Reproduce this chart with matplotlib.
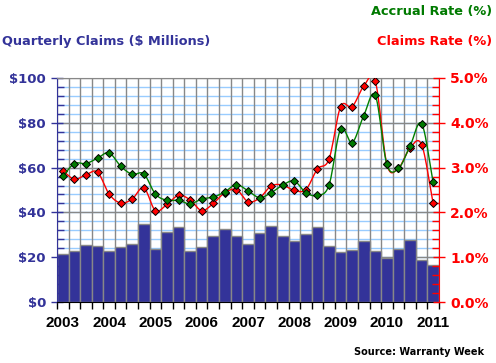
import matplotlib.pyplot as plt
import numpy as np

# quarterly data, 2003 Q1 .. 2011 Q1
claims = [21.3, 22.7, 25.3, 24.9, 22.7, 24.4, 25.8, 34.7, 23.6, 31.1, 33.3,
          22.7, 24.4, 29.3, 32.4, 29.3, 25.8, 30.7, 33.8, 29.3, 27.3, 30.2,
          33.3, 24.9, 22.2, 23.1, 27.1, 22.7, 19.6, 23.6, 27.6, 18.7, 16.4]
accrual_rate = [2.81, 3.09, 3.09, 3.21, 3.33, 3.03, 2.85, 2.86, 2.41, 2.27, 2.27,
                2.19, 2.30, 2.34, 2.46, 2.62, 2.48, 2.33, 2.44, 2.61, 2.70, 2.44,
                2.38, 2.61, 3.86, 3.56, 4.16, 4.61, 3.07, 2.98, 3.48, 3.98, 2.67]
claims_rate = [2.93, 2.74, 2.84, 2.90, 2.41, 2.21, 2.30, 2.55, 2.04, 2.18, 2.38,
               2.28, 2.04, 2.20, 2.44, 2.51, 2.24, 2.32, 2.59, 2.61, 2.49, 2.51,
               2.97, 3.19, 4.36, 4.36, 4.82, 4.93, 3.07, 2.99, 3.44, 3.51, 2.20]
years = ['2003', '2004', '2005', '2006', '2007', '2008', '2009', '2010', '2011']

NAVY = '#333399'
RED = '#ff0000'
GREEN = '#007a00'
GRID_BLUE = '#99ccff'
GRAY = '#888888'


def smooth(x, y, n=12):
    # catmull-rom curve through the points, like excel "smoothed line"
    x = np.asarray(x, float)
    y = np.asarray(y, float)
    px = np.concatenate([[2 * x[0] - x[1]], x, [2 * x[-1] - x[-2]]])
    py = np.concatenate([[2 * y[0] - y[1]], y, [2 * y[-1] - y[-2]]])
    xs, ys = [], []
    t = np.linspace(0, 1, n, endpoint=False)
    for i in range(1, len(px) - 2):
        for p, out in ((px, xs), (py, ys)):
            p0, p1, p2, p3 = p[i - 1], p[i], p[i + 1], p[i + 2]
            out.extend(0.5 * (2 * p1 + (-p0 + p2) * t
                              + (2 * p0 - 5 * p1 + 4 * p2 - p3) * t ** 2
                              + (-p0 + 3 * p1 - 3 * p2 + p3) * t ** 3))
    xs.append(x[-1])
    ys.append(y[-1])
    return xs, ys


plt.rcParams['font.family'] = 'DejaVu Sans'
fig = plt.figure(figsize=(4.96, 3.63), dpi=100)
ax = fig.add_axes([57 / 496, 1 - 302 / 363, 382 / 496, 224 / 363])

n = len(claims)
x = np.arange(n)

# grid
for v in range(4, 100, 4):
    ax.axhline(v, color=GRID_BLUE, lw=1, zorder=0)
for v in range(20, 101, 20):
    ax.axhline(v, color=GRAY, lw=1, zorder=0)
for v in np.arange(-0.5, n, 1):
    ax.axvline(v, color=GRAY, lw=1, zorder=0)

ax.bar(x, claims, width=1.0, color=NAVY, edgecolor=GRAY, linewidth=1, zorder=1)

ax.set_xlim(-0.5, n - 0.5)
ax.set_ylim(0, 100)
ax.set_yticks(range(0, 101, 20))
ax.set_yticklabels(['$%d' % v for v in range(0, 101, 20)])
ax.set_yticks(range(0, 101, 4), minor=True)
ax.tick_params(axis='y', which='major', direction='inout', length=8, width=1,
               color=NAVY, labelcolor=NAVY, labelsize=9.5, pad=4)
ax.tick_params(axis='y', which='minor', direction='in', length=5, width=1, color=NAVY)
for lab in ax.get_yticklabels():
    lab.set_fontweight('bold')

ax.set_xticks(np.arange(-0.5, n, 1), minor=True)
ax.set_xticks(np.arange(0, n, 4))
ax.set_xticklabels(years, fontsize=11, fontweight='bold', family='Liberation Sans')
ax.tick_params(axis='x', which='major', length=0, pad=10)
ax.tick_params(axis='x', which='minor', direction='out', length=5, width=1, color='black')

ax.spines['left'].set_color(NAVY)
ax.spines['bottom'].set_color('black')
ax.spines['top'].set_color(GRAY)
ax.spines['right'].set_visible(False)

ax2 = ax.twinx()
ax2.set_ylim(0, 5)
ax2.set_yticks(np.arange(0, 5.01, 1))
ax2.set_yticklabels(['%.1f%%' % v for v in np.arange(0, 5.01, 1)])
ax2.set_yticks(np.arange(0, 5.01, 0.2), minor=True)
ax2.tick_params(axis='y', which='major', direction='inout', length=8, width=1,
                color=RED, labelcolor=RED, labelsize=10, pad=4)
ax2.tick_params(axis='y', which='minor', direction='in', length=5, width=1, color=RED)
for lab in ax2.get_yticklabels():
    lab.set_fontweight('bold')
ax2.spines['right'].set_color(RED)
for s in ('left', 'top', 'bottom'):
    ax2.spines[s].set_visible(False)

sx, sy = smooth(x, claims_rate)
ax2.plot(sx, sy, color=RED, lw=1, zorder=3)
ax2.plot(x, claims_rate, ls='none', marker='D', ms=3.7, mfc=RED, mec='black',
         mew=0.7, zorder=4)
sx, sy = smooth(x, accrual_rate)
ax2.plot(sx, sy, color='#008000', lw=1, zorder=5)
ax2.plot(x, accrual_rate, ls='none', marker='D', ms=3.7, mfc=GREEN, mec='black',
         mew=0.7, zorder=6)
ax2.set_xlim(-0.5, n - 0.5)

fig.text(2 / 496, 1 - 42 / 363, 'Quarterly Claims ($ Millions)', color=NAVY,
         fontsize=9.3, fontweight='bold', va='center', ha='left')
fig.text(492 / 496, 1 - 12 / 363, 'Accrual Rate (%)', color=GREEN,
         fontsize=9.3, fontweight='bold', va='center', ha='right')
fig.text(492 / 496, 1 - 42 / 363, 'Claims Rate (%)', color=RED,
         fontsize=9.3, fontweight='bold', va='center', ha='right')
fig.text(484 / 496, 1 - 352 / 363, 'Source: Warranty Week', color='black',
         fontsize=7, fontweight='bold', va='center', ha='right')

fig.savefig('out.png', dpi=100)
